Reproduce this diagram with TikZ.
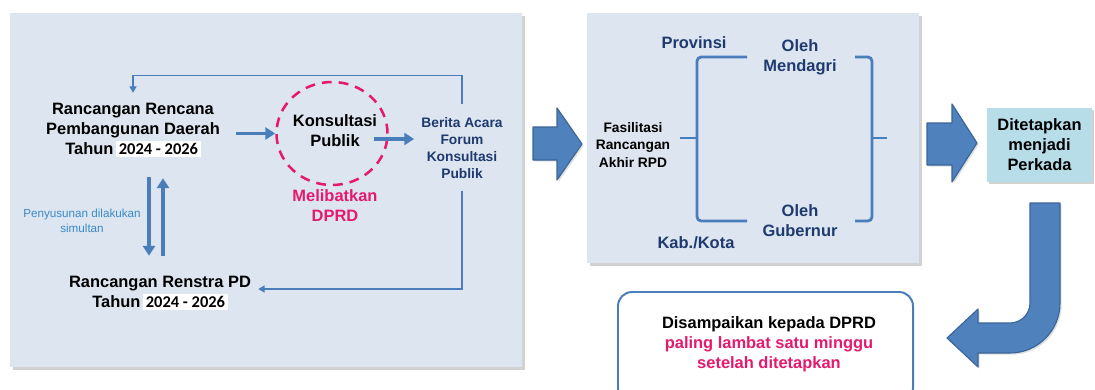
\documentclass[tikz,border=0pt]{standalone}
\usepackage{fontspec}
\setmainfont{Liberation Sans}
\newfontfamily\numfont{Carlito}
\usetikzlibrary{positioning,arrows.meta,shapes.geometric,shadows}

\definecolor{panelbg}{HTML}{DCE5F0}
\definecolor{linkblue}{HTML}{4A7EBB}
\definecolor{arrowblue}{HTML}{4F81BD}
\definecolor{arrowedge}{HTML}{3A6599}
\definecolor{navy}{HTML}{1F3A6E}
\definecolor{dprdpink}{HTML}{E5196E}
\definecolor{notecol}{HTML}{3B8AC4}
\definecolor{perkadabg}{HTML}{B7DDE8}

\newdimen\pxu \pxu=0.025cm
\newcommand{\tahun}[1]{{\setlength{\fboxsep}{1.8pt}\colorbox{white}{\numfont\bfseries #1}}}

\begin{document}
\begin{tikzpicture}[x=0.025cm, y=-0.025cm,
	panel/.style={fill=panelbg, drop shadow={shadow xshift=1.8pt, shadow yshift=-1.8pt, opacity=0.35}},
	bigtxt/.style={font=\bfseries\fontsize{11.7}{14.2}\selectfont},
	midtxt/.style={font=\bfseries\fontsize{9.8}{12.1}\selectfont},
	notetxt/.style={font=\fontsize{8.3}{10.3}\selectfont, text=notecol},
	thicklink/.style={draw=linkblue, line width=2.8pt, -{Triangle[length=7pt,width=8.5pt]}},
	thinlink/.style={draw=linkblue, line width=0.9pt, -{Triangle[length=4.5pt,width=5pt]}},
	blockarrow/.style={fill=arrowblue, draw=arrowedge, line width=0.8pt, line join=round,
		drop shadow={shadow xshift=1.2pt, shadow yshift=-1.2pt, opacity=0.25}},
	bracket/.style={draw=linkblue, line width=2pt, rounded corners=3pt},
	kpring/.style={ellipse, draw=dprdpink, line width=1.8pt, dash pattern=on 7pt off 5pt,
		minimum width=111*\pxu, minimum height=103*\pxu},
	perkada/.style={fill=perkadabg, minimum width=105*\pxu, minimum height=74*\pxu,
		drop shadow={shadow xshift=1.5pt, shadow yshift=-1.5pt, opacity=0.35}},
	finalbox/.style={draw=linkblue, line width=1.4pt, fill=white, rounded corners=10pt}
	]
	\fill[white] (0,0) rectangle (1095,389);
	\useasboundingbox (0,0) rectangle (1095,389);

	% panels
	\fill[panel] (10,13) rectangle (522,367);
	\fill[panel] (587,13) rectangle (919,263);

	\begin{scope}
		\tikzstyle{every node}=[align=center, inner sep=0pt]
		% left panel
		\node[bigtxt] (rrpd) at (133,130) {Rancangan Rencana\\Pembangunan Daerah\\Tahun\hspace{2pt}\tahun{2024 - 2026}};
		\node[bigtxt] (renstra) at (160,293) {Rancangan Renstra PD\\Tahun\hspace{2pt}\tahun{2024 - 2026}};
		\node[notetxt] (simultan) at (82,221) {Penyusunan dilakukan\\simultan};
		\node[kpring] (kp) at (332,133.5) {};
		\node[bigtxt] (kptext) at (335,131) {Konsultasi\\Publik};
		\node[bigtxt, text=dprdpink] (libat) at (335,206) {Melibatkan\\DPRD};
		\node[midtxt, text=navy] (berita) at (462,148) {Berita Acara\\Forum\\Konsultasi\\Publik};

		% middle panel
		\node[bigtxt, text=navy] (prov) at (694,43) {Provinsi};
		\node[bigtxt, text=navy] (kab) at (696,243) {Kab./Kota};
		\node[bigtxt, text=navy] (mendagri) at (800,57) {Oleh\\Mendagri};
		\node[bigtxt, text=navy] (gubernur) at (800,220.5) {Oleh\\Gubernur};
		\node[midtxt] (fas) at (633,145) {Fasilitasi\\Rancangan\\Akhir RPD};

		% right side
		\node[perkada, bigtxt] (perkada) at (1039.5,145) {Ditetapkan\\menjadi\\Perkada};
		\draw[finalbox] (618,292) rectangle (913,402);
		\node[bigtxt] (dprd) at (769,344) {Disampaikan kepada DPRD\\\textcolor{dprdpink}{paling lambat satu minggu}\\\textcolor{dprdpink}{setelah ditetapkan}};

		% connectors
		\draw[thicklink] ([xshift=16*\pxu]rrpd.east |- kp.west) -- (kp.west);
		\draw[thicklink] ([xshift=-15*\pxu,yshift=-5.5*\pxu]kp.east) -- ([xshift=-7*\pxu,yshift=-5.5*\pxu]berita.west |- kp.east);
		\draw[thinlink] ([yshift=13*\pxu]berita.north) -- ++(0,-29) -| ([yshift=10*\pxu]rrpd.north);
		\draw[thinlink] ([yshift=-12*\pxu]berita.south) |- ([xshift=7*\pxu,yshift=4*\pxu]renstra.east);
		\draw[thicklink] ([xshift=16*\pxu,yshift=-20*\pxu]rrpd.south) -- ([xshift=16*\pxu,yshift=20*\pxu]rrpd.south |- renstra.north);
		\draw[thicklink] ([xshift=30*\pxu,yshift=20*\pxu]rrpd.south |- renstra.north) -- ([xshift=30*\pxu,yshift=-21*\pxu]rrpd.south);

		% brackets
		\draw[bracket] (747,57) -- (697,57) -- (697,221) -- (747,221);
		\draw[bracket] (680,138) -- (697,138);
		\draw[bracket] (855,57) -- (872,57) -- (872,221) -- (855,221);
		\draw[bracket] (872,138) -- (887,138);
	\end{scope}

	% block arrows
	\filldraw[blockarrow] (533,127) -- (557,127) -- (557,108) -- (582,144) -- (557,180) -- (557,160) -- (533,160) -- cycle;
	\filldraw[blockarrow] (927,123) -- (952,123) -- (952,104) -- (977,143) -- (952,182) -- (952,165) -- (927,165) -- cycle;
	\filldraw[blockarrow] (1030,203) -- (1060,203) -- (1060,303) .. controls (1060,330.6) and (1037.6,353) .. (1010,353)
		-- (978,353) -- (978,367) -- (947,338) -- (978,309) -- (978,323) -- (1010,323)
		.. controls (1021,323) and (1030,314) .. (1030,303) -- cycle;
\end{tikzpicture}
\end{document}
